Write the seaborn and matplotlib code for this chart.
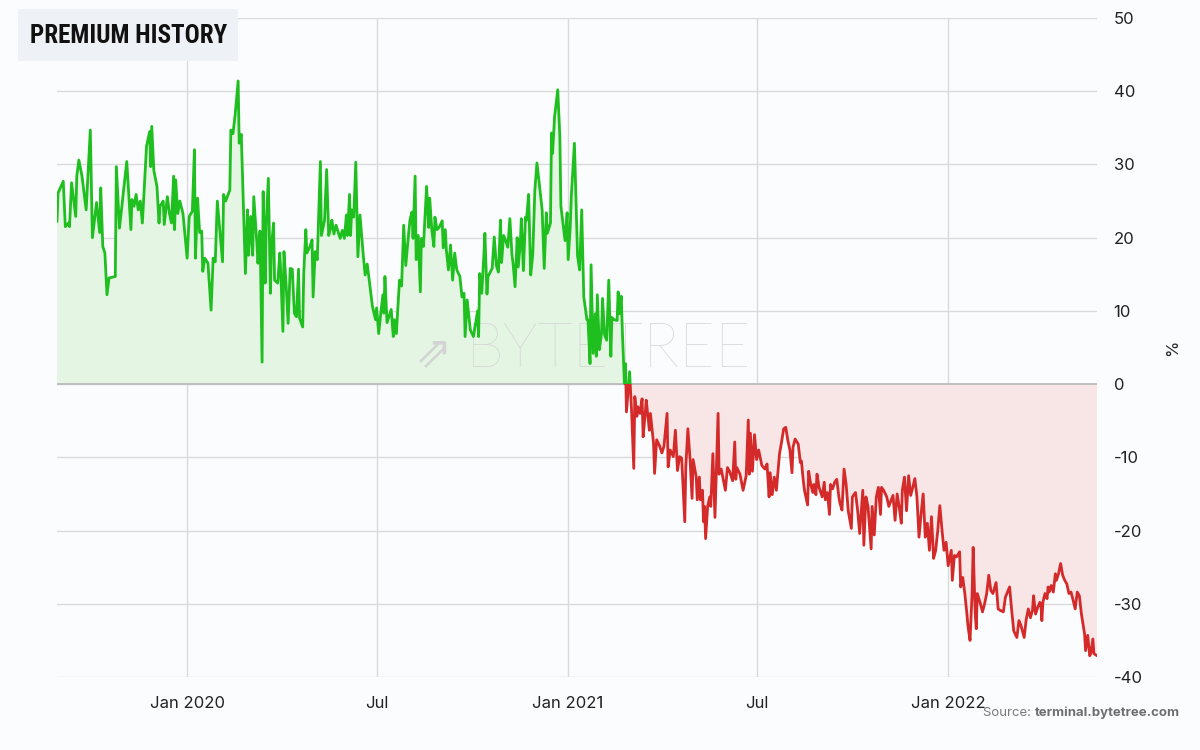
import numpy as np
import pandas as pd
import seaborn as sns
import matplotlib.pyplot as plt
import matplotlib.dates as mdates
from matplotlib.patches import Rectangle

# premium (%), as (days since start, value)
start = pd.Timestamp("2019-08-29")
end_day = 999

late_2019 = [
    (0, 22.2), (1, 26.1), (6, 27.7), (8, 21.5), (11, 22.0), (12, 21.5), (14, 27.5), (18, 22.9),
    (19, 28.4), (21, 30.6), (24, 28.4), (28, 23.8), (32, 34.7), (34, 20.0), (38, 24.8), (41, 20.7),
    (42, 26.8), (44, 18.8), (46, 17.9), (48, 12.2), (50, 14.5), (56, 14.7), (57, 29.7), (60, 21.3),
    (67, 30.4), (71, 21.1), (72, 25.2), (74, 24.3), (76, 25.9), (78, 23.8), (80, 25.0), (82, 22.0),
    (86, 32.5), (89, 34.5), (90, 29.7), (91, 35.2), (93, 29.2), (96, 27.0), (98, 22.0), (99, 24.3),
    (102, 25.0), (103, 21.8), (106, 25.6), (108, 23.3), (110, 22.0), (112, 28.4), (113, 21.1),
    (114, 27.9), (116, 23.3), (118, 25.0), (121, 23.3),
]
h1_2020 = [
    (125, 17.2), (127, 22.9), (130, 23.6), (132, 32.0), (133, 17.2), (135, 25.4), (137, 20.7),
    (139, 20.9), (140, 15.4), (142, 17.2), (145, 16.5), (148, 10.1), (150, 17.2), (152, 16.7),
    (154, 25.0), (159, 16.7), (160, 25.9), (162, 25.0), (166, 26.5), (167, 34.7), (169, 34.2),
    (171, 36.6), (174, 41.4), (175, 32.9), (177, 34.1), (181, 15.1), (183, 23.8), (184, 17.6),
    (186, 22.9), (188, 17.6), (189, 25.6), (192, 19.2), (193, 16.5), (195, 20.9), (197, 3.0),
    (198, 26.3), (200, 13.8), (201, 22.0), (203, 28.1), (205, 12.4), (206, 18.8), (208, 22.0),
    (209, 14.2), (212, 13.8), (214, 17.9), (215, 15.1), (217, 7.2), (218, 18.1), (220, 13.8),
    (222, 8.3), (224, 15.8), (226, 15.7), (228, 9.7), (230, 9.2), (232, 15.7), (233, 9.0),
    (236, 7.8), (237, 15.1), (239, 21.1), (240, 17.9), (243, 18.8), (245, 19.7), (246, 11.9),
    (248, 18.1), (250, 17.0), (253, 30.4), (254, 20.3), (257, 22.4), (259, 29.3), (261, 20.3),
    (263, 21.4), (264, 22.4), (266, 20.5), (268, 21.7), (270, 20.8), (272, 19.9), (274, 21.0),
    (276, 19.9), (278, 23.1), (279, 20.3), (281, 25.9), (282, 20.3), (283, 23.8), (285, 22.8),
    (287, 30.3), (289, 17.4), (291, 23.1), (294, 17.9), (296, 14.9), (298, 16.4), (301, 12.9),
    (303, 10.6), (306, 8.8),
]
h2_2020 = [
    (307, 10.4), (309, 6.9), (311, 9.7), (313, 12.2), (314, 9.7), (315, 14.7), (317, 8.4),
    (319, 9.3), (321, 10.2), (323, 6.5), (324, 8.8), (326, 6.9), (327, 9.5), (329, 14.2),
    (331, 13.4), (333, 21.7), (335, 16.2), (337, 19.4), (339, 22.4), (341, 23.5), (342, 19.9),
    (344, 28.4), (345, 17.0), (347, 20.3), (349, 12.6), (350, 19.9), (352, 18.8), (355, 27.0),
    (357, 21.4), (358, 25.4), (360, 21.1), (362, 18.8), (363, 22.8), (365, 21.1), (367, 21.4),
    (370, 22.3), (371, 18.6), (373, 21.1), (374, 18.3), (376, 15.6), (378, 19.0), (380, 14.2),
    (382, 17.9), (384, 15.6), (387, 14.7), (389, 11.9), (391, 12.4), (392, 6.5), (394, 11.5),
    (397, 7.4), (400, 6.5), (402, 8.2), (404, 10.0), (405, 6.5), (406, 15.1), (408, 12.4),
    (410, 17.6), (411, 20.6), (413, 12.3), (414, 14.7), (418, 15.8), (420, 20.1), (422, 16.2),
    (424, 15.3), (426, 22.4), (427, 16.6), (429, 20.3), (431, 19.6), (433, 18.7), (435, 22.6),
    (437, 17.7), (438, 16.6), (440, 13.3), (442, 20.0), (443, 16.0), (445, 19.2), (446, 22.6),
    (448, 15.5), (450, 22.8), (451, 22.4), (453, 25.9), (455, 14.9), (457, 17.7), (459, 26.5),
    (461, 30.2), (463, 27.7), (466, 23.8), (468, 15.8), (470, 23.4), (471, 20.6), (474, 22.0),
    (475, 34.3), (476, 31.5), (478, 36.6), (481, 40.2), (483, 33.8), (484, 24.3), (486, 22.0),
    (488, 19.6), (490, 23.4),
]
h1_2021 = [
    (491, 17.0), (493, 21.5), (494, 25.6), (497, 32.9), (499, 22.4), (500, 17.5), (502, 15.6),
    (504, 23.8), (506, 11.9), (509, 8.8), (510, 8.8), (512, 2.8), (513, 16.3), (515, 4.2),
    (517, 9.6), (518, 3.8), (519, 12.2), (521, 4.7), (523, 6.9), (524, 11.7), (526, 6.7),
    (528, 6.0), (530, 14.2), (532, 3.8), (533, 9.1), (535, 8.8), (538, 8.7), (539, 12.6),
    (540, 9.6), (542, 12.0), (543, 7.4), (545, 0.1), (546, 2.8), (547, -3.8), (549, 0.0),
    (550, 1.7), (552, -4.0), (554, -11.5), (555, -1.7), (557, -4.4), (558, -3.1), (560, -4.0),
    (562, -2.0), (563, -7.2), (565, -4.0), (566, -2.2), (569, -6.3), (570, -4.0), (573, -8.1),
    (574, -12.2), (576, -7.6), (579, -8.5), (581, -9.4), (583, -8.5), (586, -4.0), (587, -11.3),
    (589, -9.0), (592, -9.9), (594, -6.3), (596, -11.8), (598, -9.9), (600, -10.1), (603, -18.8),
    (604, -11.3), (606, -6.1), (608, -10.1), (610, -15.6), (611, -10.3), (614, -12.7),
    (615, -15.8), (617, -12.7), (618, -15.8), (620, -14.5), (621, -18.8), (622, -16.7),
    (623, -21.1), (625, -16.7), (627, -15.4), (628, -16.7), (630, -9.5), (632, -18.2),
    (635, -4.0), (636, -12.3), (638, -11.6), (642, -14.5), (644, -11.4), (646, -11.9),
    (649, -13.2), (651, -7.9), (652, -13.0), (653, -11.4), (656, -12.3), (659, -14.5),
    (662, -12.5), (664, -4.9), (665, -12.3), (666, -6.7), (668, -11.9), (670, -6.9),
]
h2_2021 = [
    (672, -10.3), (674, -9.0), (677, -11.1), (680, -11.6), (682, -10.9), (684, -15.4),
    (685, -12.1), (687, -15.1), (689, -12.7), (691, -14.5), (694, -9.5), (696, -7.9),
    (698, -6.1), (700, -5.9), (702, -7.7), (704, -9.0), (706, -12.1), (707, -8.6), (709, -7.5),
    (712, -8.2), (714, -10.7), (715, -10.5), (717, -13.4), (718, -14.5), (721, -16.5),
    (722, -11.9), (724, -13.7), (726, -14.8), (727, -13.7), (729, -15.1), (730, -12.3),
    (732, -14.1), (735, -15.4), (737, -13.4), (738, -15.8), (740, -14.8), (742, -17.8),
    (743, -13.7), (745, -14.3), (747, -13.4), (749, -13.0), (751, -15.4), (752, -16.2),
    (754, -17.2), (756, -11.6), (758, -13.7), (760, -17.3), (763, -19.7), (764, -15.4),
    (767, -14.8), (769, -17.2), (771, -20.4), (774, -14.5), (775, -22.0), (777, -15.4),
    (779, -16.7), (782, -22.5), (783, -16.7), (785, -20.6), (787, -15.4), (789, -14.1),
    (791, -17.8), (792, -14.1), (794, -14.5), (797, -15.4), (799, -16.7), (803, -15.2),
    (805, -18.6), (807, -15.0), (809, -16.8), (811, -19.0), (812, -14.5), (814, -12.7),
    (816, -17.3), (818, -12.5), (820, -15.2), (822, -14.1), (824, -12.9), (826, -15.4),
    (828, -20.9), (830, -17.7), (832, -15.0), (834, -20.9), (836, -19.0), (838, -22.7),
    (840, -18.1), (842, -23.8), (844, -22.7), (846, -20.0), (848, -16.6), (850, -19.8),
    (852, -22.7), (854, -21.6),
]
y2022 = [
    (856, -24.8), (859, -22.7), (860, -26.8), (862, -23.4), (864, -23.6), (867, -22.9),
    (868, -27.7), (870, -26.4), (872, -28.6), (874, -31.4), (875, -33.0), (877, -35.0),
    (879, -28.6), (880, -22.3), (882, -31.4), (883, -33.4), (884, -28.6), (887, -30.0),
    (889, -31.1), (891, -30.0), (893, -28.6), (895, -26.1), (897, -28.2), (899, -28.6),
    (902, -27.1), (904, -30.7), (906, -30.9), (909, -31.1), (911, -29.1), (915, -27.7),
    (917, -30.9), (919, -33.7), (922, -34.6), (924, -32.3), (926, -33.0), (929, -34.6),
    (931, -32.1), (933, -30.7), (935, -31.9), (937, -30.9), (938, -28.9), (940, -31.4),
    (942, -30.5), (944, -29.8), (945, -30.0), (946, -32.3), (947, -29.8), (949, -28.6),
    (951, -29.3), (952, -27.7), (953, -28.4), (955, -27.5), (957, -28.4), (959, -25.9),
    (960, -26.8), (962, -25.9), (964, -24.5), (966, -26.1), (968, -26.8), (970, -27.3),
    (972, -28.6), (974, -28.4), (976, -29.5), (978, -30.7), (980, -28.4), (982, -28.9),
    (984, -31.4), (987, -34.1), (988, -36.4), (990, -34.3), (992, -37.1), (993, -36.8),
    (995, -34.8), (996, -36.8), (999, -37.1),
]

yticks = list(range(-40, 51, 10))

df = pd.DataFrame(late_2019 + h1_2020 + h2_2020 + h1_2021 + h2_2021 + y2022,
                  columns=["day", "premium"])
df["date"] = start + pd.to_timedelta(df["day"], unit="D")

bg = "#fbfcfe"
green = "#1ebf1e"
red = "#d42a2a"

sns.set_theme(style="white")
plt.rcParams["font.family"] = ["Inter", "DejaVu Sans"]
plt.rcParams["axes.unicode_minus"] = False

fig = plt.figure(figsize=(12, 7.5), dpi=100, facecolor=bg)
ax = fig.add_axes([0.0475, 0.0973, 0.8667, 0.8787], facecolor=bg)

x0 = start
x1 = start + pd.Timedelta(days=end_day)
ax.set_xlim(x0, x1)
ax.set_ylim(-40, 50)

vals = df["premium"].to_numpy()
ax.fill_between(df["date"], vals, 0, where=vals >= 0, interpolate=True,
                color="#e4f5e3", lw=0, zorder=1)
ax.fill_between(df["date"], vals, 0, where=vals <= 0, interpolate=True,
                color="#f8e5e5", lw=0, zorder=1)

ax.axhline(0, color="#b8b8b8", lw=1.2, zorder=2)

sns.lineplot(data=df, x="date", y="premium", ax=ax, color=green, lw=2,
             estimator=None, zorder=3)
sns.lineplot(data=df, x="date", y="premium", ax=ax, color=red, lw=2,
             estimator=None, zorder=3)
xa, xb = mdates.date2num(x0), mdates.date2num(x1)
top_clip = Rectangle((xa, 0), xb - xa, 60, transform=ax.transData)
bot_clip = Rectangle((xa, -60), xb - xa, 60, transform=ax.transData)
ax.lines[-2].set_clip_path(top_clip)
ax.lines[-1].set_clip_path(bot_clip)

ax.grid(True, color="#dadada", lw=1)
ax.set_axisbelow(True)
for s in ax.spines.values():
    s.set_visible(False)

ax.xaxis.set_major_locator(mdates.MonthLocator(bymonth=[1, 7]))
ax.xaxis.set_major_formatter(plt.FuncFormatter(
    lambda v, p: mdates.num2date(v).strftime("%b %Y" if mdates.num2date(v).month == 1 else "%b")))
ax.set_yticks(yticks)
ax.yaxis.tick_right()
ax.yaxis.set_label_position("right")
ax.tick_params(axis="both", length=0, labelsize=12, colors="#222222")
ax.tick_params(axis="x", pad=14)
ax.tick_params(axis="y", pad=12)
ax.set_xlabel("")
ax.set_ylabel("%", fontsize=12, color="#222222", labelpad=16)

# watermark
ax.text(0.53, 0.496, "BYTETREE", transform=ax.transAxes, ha="center", va="center",
        fontsize=44, color="#d3d5d5", family=["Lato", "DejaVu Sans"], fontweight="light",
        zorder=2)
ax.text(0.362, 0.49, "⇗", transform=ax.transAxes, ha="center", va="center",
        fontsize=32, color="#d3d5d5", family="DejaVu Sans", zorder=2)

# title box
fig.patches.append(Rectangle((18 / 1200, 1 - 61 / 750), 220 / 1200, 52 / 750,
                             transform=fig.transFigure, facecolor="#eef1f6",
                             edgecolor="none", zorder=5))
title = fig.text(30 / 1200, 1 - 36 / 750, "PREMIUM HISTORY", ha="left", va="center",
                 fontsize=20, fontweight="bold", color="#111111",
                 family=["Roboto Condensed", "Barlow Condensed", "Oswald", "DejaVu Sans"],
                 zorder=6)

# source note
src_b = fig.text(1180 / 1200, 1 - 713 / 750, "terminal.bytetree.com", ha="right",
                 va="center", fontsize=9.5, fontweight="bold", color="#6f6f6f")
fig.canvas.draw()
tw = title.get_window_extent().width
if tw > 200:
    title.set_fontsize(20 * 198 / tw)
bb = src_b.get_window_extent()
fig.text(bb.x0 / fig.bbox.width, 1 - 713 / 750, "Source: ", ha="right", va="center",
         fontsize=9.5, color="#7a7a7a")

fig.savefig("out.png", dpi=100, facecolor=bg)
